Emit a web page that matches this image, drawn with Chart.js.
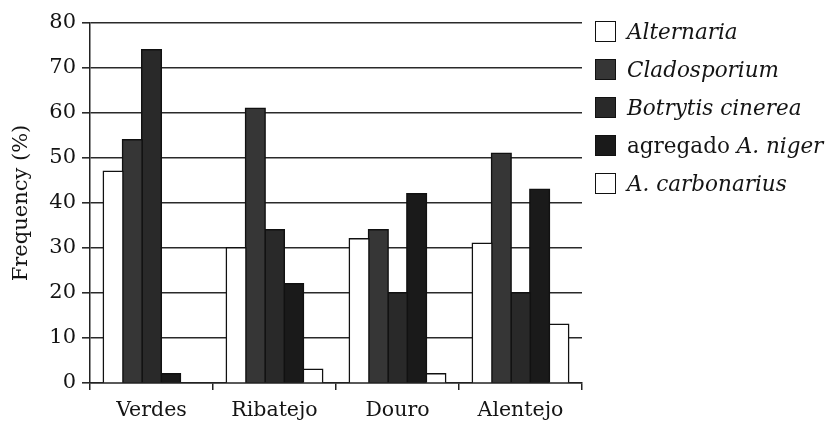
<!DOCTYPE html>
<html>
<head>
<meta charset="utf-8">
<script src="https://cdn.jsdelivr.net/npm/chart.js@4"></script>
<style>
  html, body { margin: 0; padding: 0; background: #fff; }
  #wrap { position: relative; width: 828px; height: 431px; }
  #legend { position: absolute; left: 595px; top: 12px; font-family: "DejaVu Serif", serif; font-size: 21.5px; color: #141414; }
  .row { height: 38px; display: flex; align-items: center; white-space: nowrap; }
  .box { width: 19px; height: 19px; border: 1.5px solid #111; margin-right: 11px; flex: none; }
</style>
</head>
<body>
<div id="wrap">
  <canvas id="myChart" width="828" height="431"></canvas>
  <div id="legend"></div>
</div>
<script>
'use strict';
// regions on the x axis
var regions = ['Verdes', 'Ribatejo', 'Douro', 'Alentejo'];
// frequency (%) per fungus
var alternaria = [47, 30, 32, 31];
var cladosporium = [54, 61, 34, 51];
var botrytis = [74, 34, 20, 20];
var nigerAgg = [2, 22, 42, 43];
var carbonarius = [0, 3, 2, 13];
var yTicks = [0, 10, 20, 30, 40, 50, 60, 70, 80];

var legendLabels = ['<i>Alternaria</i>', '<i>Cladosporium</i>', '<i>Botrytis cinerea</i>',
  'agregado&nbsp;<i>A. niger</i>', '<i>A. carbonarius</i>'];
var fills = ['#ffffff', '#363636', '#292929', '#1a1a1a', '#ffffff'];
var allSeries = [alternaria, cladosporium, botrytis, nigerAgg, carbonarius];

var font = "'DejaVu Serif', serif";

var datasets = [];
for (var i = 0; i < allSeries.length; i++) {
  datasets.push({
    label: legendLabels[i].replace(/<[^>]+>/g, '').replace('&nbsp;', ' '),
    data: allSeries[i],
    backgroundColor: fills[i],
    borderColor: '#111',
    borderWidth: 1.5,
    borderSkipped: 'bottom',
    inflateAmount: 1
  });
}

// html legend, since one label mixes upright and italic text
var legendHtml = '';
for (var j = 0; j < legendLabels.length; j++) {
  legendHtml += '<div class="row"><div class="box" style="background:' + fills[j] + '"></div><span>' + legendLabels[j] + '</span></div>';
}
document.getElementById('legend').innerHTML = legendHtml;

var ctx = document.getElementById('myChart');
var myChart = new Chart(ctx, {
  type: 'bar',
  data: { labels: regions, datasets: datasets },
  options: {
    responsive: false,
    animation: false,
    layout: { padding: { top: 23, right: 246, left: 0, bottom: 0 } },
    plugins: { legend: { display: false }, tooltip: { enabled: false } },
    datasets: { bar: { categoryPercentage: 0.78, barPercentage: 1.0 } },
    scales: {
      x: {
        offset: true,
        grid: { offset: true, drawOnChartArea: false, drawTicks: true, tickLength: 7, color: '#222', lineWidth: 1.5 },
        border: { color: '#222', width: 1.5 },
        ticks: { color: '#141414', font: { family: font, size: 20.5 }, padding: 8 },
        afterFit: function(scale) { scale.height = 48; }
      },
      y: {
        min: 0,
        max: 80,
        afterBuildTicks: function(scale) {
          scale.ticks = yTicks.map(function(v) { return { value: v }; });
        },
        grid: { color: '#2a2a2a', lineWidth: 1.6, tickLength: 8 },
        border: { color: '#222', width: 1.5 },
        ticks: { color: '#141414', font: { family: font, size: 21 }, padding: 6 },
        title: { display: true, text: 'Frequency (%)', color: '#141414', font: { family: font, size: 21 }, padding: { top: 9, bottom: 0 } },
        afterFit: function(scale) { scale.width = 90; }
      }
    }
  }
});
</script>
</body>
</html>
